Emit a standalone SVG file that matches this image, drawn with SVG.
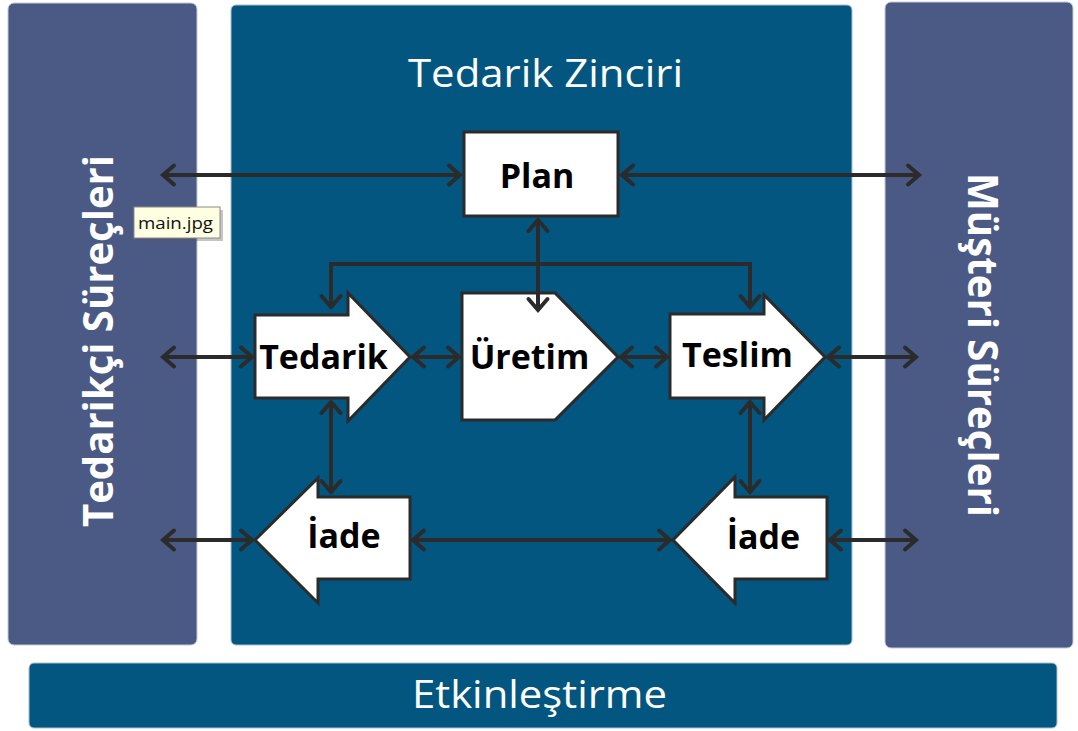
<svg xmlns="http://www.w3.org/2000/svg" width="1078" height="731" viewBox="0 0 1078 731">
<defs>
<style>
.side{fill:#4b5a85;stroke:#c3c9d8;stroke-width:1}
.main{fill:#02567f;stroke:#a9bfd2;stroke-width:1}
.node{fill:#ffffff;stroke:#2b2b2b;stroke-width:3;stroke-linejoin:miter}
.lbl{font-family:"Open Sans","Liberation Sans",sans-serif;font-weight:bold;font-size:34px;fill:#000000;text-anchor:middle}
.wt{font-family:"Open Sans","Liberation Sans",sans-serif;fill:#ffffff;text-anchor:middle}
.tip{font-family:"Open Sans","Liberation Sans",sans-serif;font-size:17px;fill:#111111}
.conn{fill:none;stroke:#2b2b2b;stroke-width:4;marker-start:url(#ah);marker-end:url(#ah)}
</style>
<marker id="ah" markerUnits="userSpaceOnUse" markerWidth="30" markerHeight="30" viewBox="-15 -15 30 30" refX="0" refY="0" orient="auto-start-reverse">
<path d="M-11,-9.5 L0,0 L-11,9.5" fill="none" stroke="#2b2b2b" stroke-width="4" stroke-linecap="round" stroke-linejoin="miter"/>
</marker>
</defs>

<g id="panel-supplier">
<rect class="side" x="8" y="3" width="189" height="642" rx="6"/>
<text class="wt" font-weight="bold" font-size="41" textLength="372" lengthAdjust="spacingAndGlyphs" transform="translate(113,341) rotate(-90)">Tedarikçi Süreçleri</text>
</g>
<g id="panel-supplychain">
<rect class="main" x="231" y="5" width="621" height="640" rx="5"/>
<text class="wt" font-size="38" x="545.5" y="87" textLength="275" lengthAdjust="spacingAndGlyphs">Tedarik Zinciri</text>
</g>
<g id="panel-customer">
<rect class="side" x="885" y="2" width="188" height="646" rx="6"/>
<text class="wt" font-weight="bold" font-size="41" textLength="344" lengthAdjust="spacingAndGlyphs" transform="translate(968,345) rotate(90)">Müşteri Süreçleri</text>
</g>
<g id="panel-enable">
<rect class="main" x="29" y="663" width="1028" height="65" rx="5"/>
<text class="wt" font-size="38" x="539.5" y="708" textLength="255" lengthAdjust="spacingAndGlyphs">Etkinleştirme</text>
</g>

<g id="node-plan">
<rect class="node" x="464" y="132" width="154" height="84"/>
<text class="lbl" x="537" y="188">Plan</text>
</g>
<g id="node-tedarik">
<path class="node" d="M255,315 H348 V293 L410,357 L348,421 V398 H255 Z"/>
<text class="lbl" x="323.5" y="369">Tedarik</text>
</g>
<g id="node-uretim">
<path class="node" d="M462,293 H555 L618,357 L555,420 H462 Z"/>
<text class="lbl" x="529.5" y="369">Üretim</text>
</g>
<g id="node-teslim">
<path class="node" d="M670,314 H764 V295 L825,357 L764,420 V398 H670 Z"/>
<text class="lbl" x="737.5" y="367">Teslim</text>
</g>
<g id="node-iade-left">
<path class="node" d="M410,497 H318 V478 L255,540 L318,603 V579 H410 Z"/>
<text class="lbl" x="344" y="548">İade</text>
</g>
<g id="node-iade-right">
<path class="node" d="M827,497 H735 V477 L673,540 L735,603 V579 H827 Z"/>
<text class="lbl" x="763.5" y="549">İade</text>
</g>

<g id="connectors">
<path class="conn" d="M163,175 H460"/>
<path class="conn" d="M622,175 H919"/>
<path class="conn" d="M538,220 V310"/>
<path class="conn" d="M331,307 V264 H750 V307"/>
<path class="conn" d="M163,357 H252"/>
<path class="conn" d="M413,357 H459"/>
<path class="conn" d="M621,357 H667"/>
<path class="conn" d="M828,357 H916"/>
<path class="conn" d="M331,402 V492"/>
<path class="conn" d="M750,402 V492"/>
<path class="conn" d="M163,540 H252"/>
<path class="conn" d="M413,540 H670"/>
<path class="conn" d="M830,540 H916"/>
</g>

<g id="tooltip">
<rect x="137" y="210" width="86" height="31" fill="#5a5a5a" opacity="0.35"/>
<rect x="134" y="207" width="86" height="31" fill="#ffffe1" stroke="#8a8a8a" stroke-width="1"/>
<text class="tip" x="138" y="229" textLength="75" lengthAdjust="spacingAndGlyphs">main.jpg</text>
</g>
</svg>
